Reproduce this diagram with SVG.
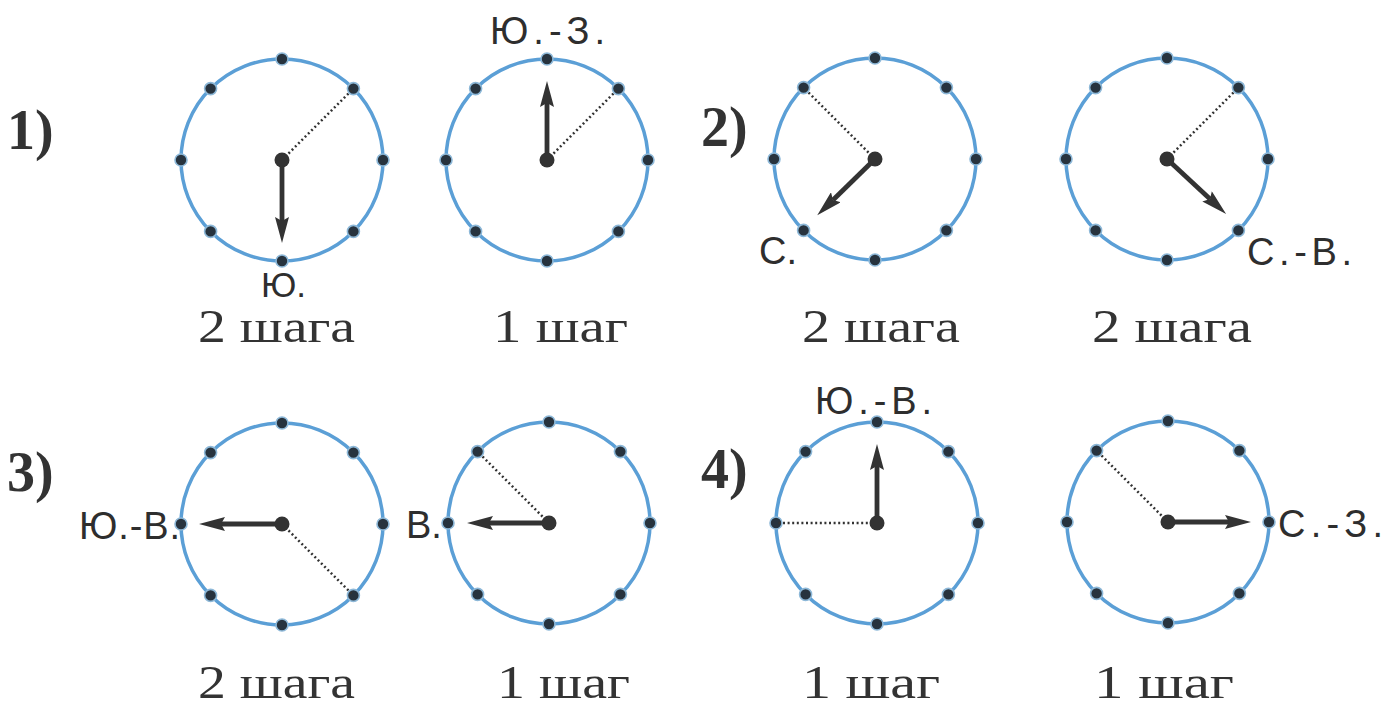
<svg xmlns="http://www.w3.org/2000/svg" xmlns:xlink="http://www.w3.org/1999/xlink" width="1386" height="706" viewBox="0 0 1386 706">
<style>
.ring{fill:none;stroke:#5b9fd6;stroke-width:3.5}
.dot{fill:#27333e;stroke:#8db8d8;stroke-width:1.6}
.hub{fill:#333333}
.hand{stroke:#333333;stroke-width:4.8;fill:none}
.dots{stroke:#333333;stroke-width:2.5;stroke-dasharray:2 2.6;fill:none}
.dir{font-family:"Liberation Sans",Arial,sans-serif;font-size:38px;fill:#2e2e2e}
.steps{font-family:"Liberation Serif","Times New Roman",serif;font-size:46px;fill:#333333}
.num{font-family:"Liberation Serif","Times New Roman",serif;font-size:56px;font-weight:bold;fill:#333333}
</style>
<defs>
<marker id="ah" viewBox="0 0 26 14" refX="4" refY="7" markerWidth="26" markerHeight="14" markerUnits="userSpaceOnUse" orient="auto">
<path d="M0,0 L26,7 L0,14 L4,7 Z" fill="#333333"/>
</marker>
<g id="face">
<circle class="ring" cx="0" cy="0" r="101"/>
<circle class="dot" cx="0" cy="-101" r="6"/>
<circle class="dot" cx="71.4" cy="-71.4" r="6"/>
<circle class="dot" cx="101" cy="0" r="6"/>
<circle class="dot" cx="71.4" cy="71.4" r="6"/>
<circle class="dot" cx="0" cy="101" r="6"/>
<circle class="dot" cx="-71.4" cy="71.4" r="6"/>
<circle class="dot" cx="-101" cy="0" r="6"/>
<circle class="dot" cx="-71.4" cy="-71.4" r="6"/>
</g>
</defs>
<rect width="1386" height="706" fill="#ffffff"/>

<g id="labels-num">
<text class="num" x="7" y="149">1)</text>
<text class="num" x="701" y="146">2)</text>
<text class="num" x="7" y="491">3)</text>
<text class="num" x="701" y="488">4)</text>
</g>

<g id="clock1">
<use xlink:href="#face" href="#face" transform="translate(282,160)"/>
<line class="dots" x1="282" y1="160" x2="353" y2="89"/>
<line class="hand" x1="282" y1="160" x2="282" y2="221" marker-end="url(#ah)"/>
<circle class="hub" cx="282" cy="160" r="7.5"/>
<text class="dir" x="261" y="297" style="font-size:35px">Ю.</text>
<text class="steps" x="198" y="342" textLength="157" lengthAdjust="spacingAndGlyphs">2 шага</text>
</g>

<g id="clock2">
<use xlink:href="#face" href="#face" transform="translate(547,160)"/>
<line class="dots" x1="547" y1="160" x2="618" y2="89"/>
<line class="hand" x1="547" y1="160" x2="547" y2="103" marker-end="url(#ah)"/>
<circle class="hub" cx="547" cy="160" r="7.5"/>
<text class="dir" x="490" y="44" textLength="115" lengthAdjust="spacing">Ю.-З.</text>
<text class="steps" x="493" y="342" textLength="135" lengthAdjust="spacingAndGlyphs">1 шаг</text>
</g>

<g id="clock3">
<use xlink:href="#face" href="#face" transform="translate(875,159)"/>
<line class="dots" x1="875" y1="159" x2="804" y2="88"/>
<line class="hand" x1="875" y1="159" x2="833" y2="200" marker-end="url(#ah)"/>
<circle class="hub" cx="875" cy="159" r="7.5"/>
<text class="dir" x="759" y="264">С.</text>
<text class="steps" x="802" y="342" textLength="158" lengthAdjust="spacingAndGlyphs">2 шага</text>
</g>

<g id="clock4">
<use xlink:href="#face" href="#face" transform="translate(1167,159)"/>
<line class="dots" x1="1167" y1="159" x2="1238" y2="88"/>
<line class="hand" x1="1167" y1="159" x2="1210" y2="199" marker-end="url(#ah)"/>
<circle class="hub" cx="1167" cy="159" r="7.5"/>
<text class="dir" x="1247" y="265" textLength="105" lengthAdjust="spacing">С.-В.</text>
<text class="steps" x="1092" y="342" textLength="160" lengthAdjust="spacingAndGlyphs">2 шага</text>
</g>

<g id="clock5">
<use xlink:href="#face" href="#face" transform="translate(282,524)"/>
<line class="dots" x1="282" y1="524" x2="353" y2="595"/>
<line class="hand" x1="282" y1="524" x2="221" y2="524" marker-end="url(#ah)"/>
<circle class="hub" cx="282" cy="524" r="7.5"/>
<text class="dir" x="79" y="539" textLength="101" lengthAdjust="spacing">Ю.-В.</text>
<text class="steps" x="198" y="698" textLength="157" lengthAdjust="spacingAndGlyphs">2 шага</text>
</g>

<g id="clock6">
<use xlink:href="#face" href="#face" transform="translate(549,523)"/>
<line class="dots" x1="549" y1="523" x2="478" y2="452"/>
<line class="hand" x1="549" y1="523" x2="489" y2="523" marker-end="url(#ah)"/>
<circle class="hub" cx="549" cy="523" r="7.5"/>
<text class="dir" x="406" y="538">В.</text>
<text class="steps" x="497" y="698" textLength="133" lengthAdjust="spacingAndGlyphs">1 шаг</text>
</g>

<g id="clock7">
<use xlink:href="#face" href="#face" transform="translate(877,523)"/>
<line class="dots" x1="877" y1="523" x2="776" y2="523"/>
<line class="hand" x1="877" y1="523" x2="877" y2="466" marker-end="url(#ah)"/>
<circle class="hub" cx="877" cy="523" r="7.5"/>
<text class="dir" x="815" y="414" textLength="117" lengthAdjust="spacing">Ю.-В.</text>
<text class="steps" x="802" y="698" textLength="138" lengthAdjust="spacingAndGlyphs">1 шаг</text>
</g>

<g id="clock8">
<use xlink:href="#face" href="#face" transform="translate(1168,522)"/>
<line class="dots" x1="1168" y1="522" x2="1097" y2="451"/>
<line class="hand" x1="1168" y1="522" x2="1229" y2="522" marker-end="url(#ah)"/>
<circle class="hub" cx="1168" cy="522" r="7.5"/>
<text class="dir" x="1278" y="537" textLength="105" lengthAdjust="spacing">С.-З.</text>
<text class="steps" x="1094" y="698" textLength="140" lengthAdjust="spacingAndGlyphs">1 шаг</text>
</g>
</svg>
